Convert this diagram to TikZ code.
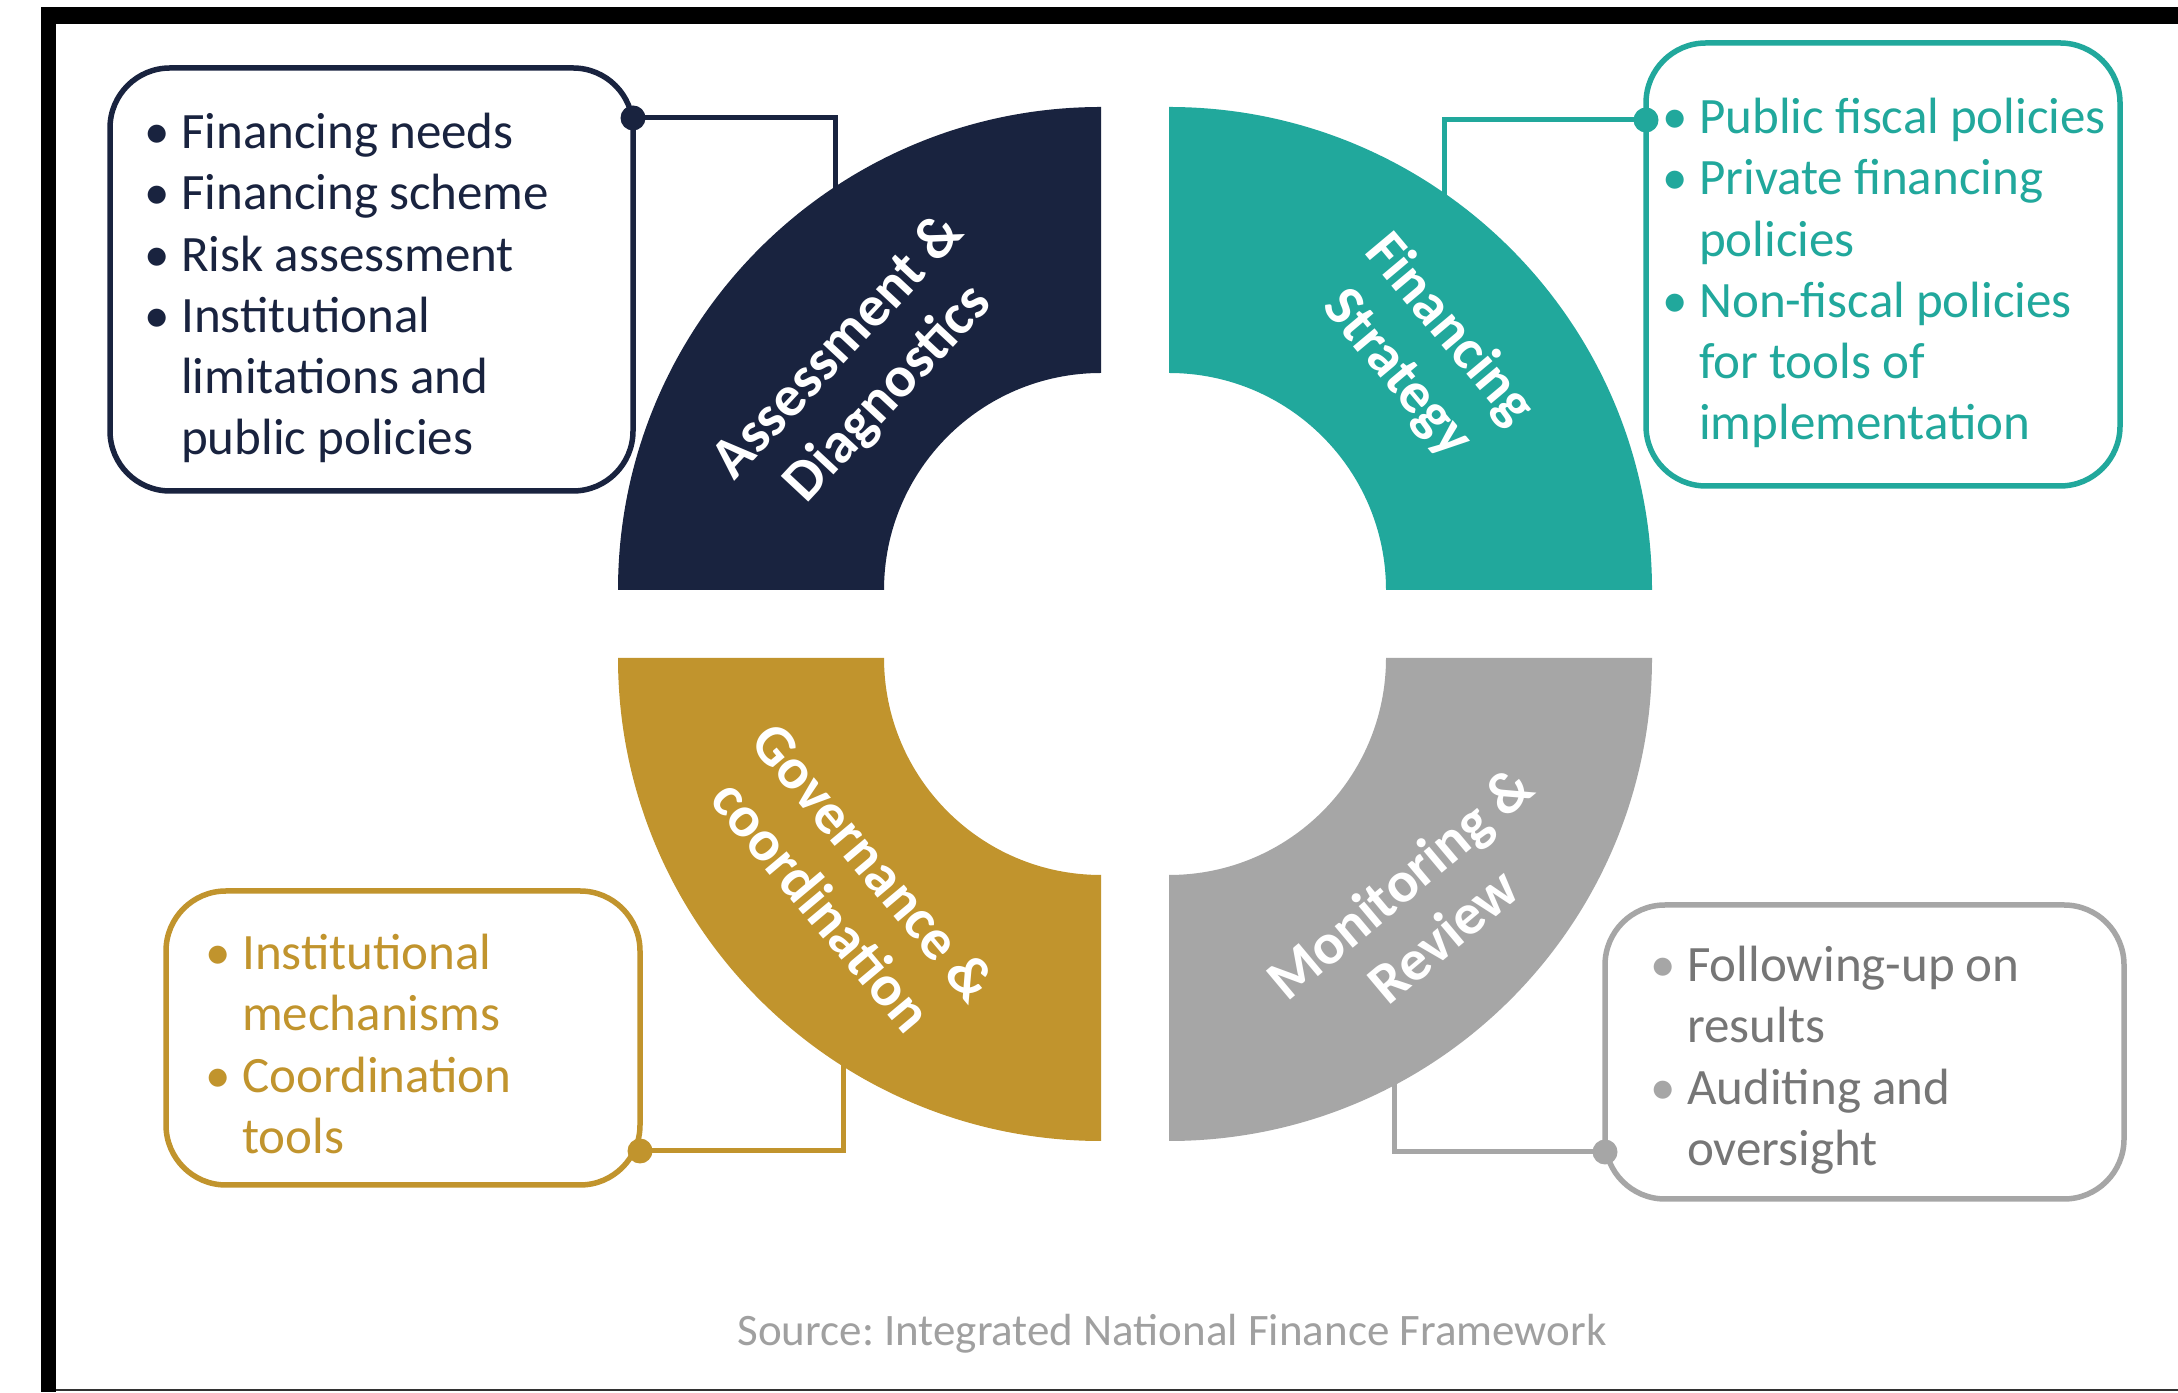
\documentclass[tikz,border=0pt]{standalone}
\usepackage{fontspec}
\setmainfont{Carlito}
\frenchspacing
\definecolor{navy}{RGB}{25,35,63}
\definecolor{teal}{RGB}{33,168,156}
\definecolor{gold}{RGB}{193,148,45}
\definecolor{qgray}{RGB}{166,166,166}
\definecolor{tgray}{RGB}{118,118,118}
\definecolor{srcgray}{RGB}{160,160,160}
\newcommand\bul[1]{\par\spaceskip=11pt plus 3pt minus 2pt\relax\hangindent=37pt\hangafter=1\noindent\makebox[37pt][l]{#1}}
\begin{document}
\begin{tikzpicture}[x=1pt,y=1pt,
  box/.style={draw=#1, line width=5.5pt, rounded corners=60pt, inner sep=0pt, fill=white},
  conn/.style={draw=#1, line width=5pt},
  txt/.style={anchor=north west, inner sep=0pt, text width=520pt, align=left,
              font=\fontsize{51}{61.3}\selectfont},
  lbl/.style={text=white, align=center, inner sep=0pt,
              font=\bfseries\fontsize{58}{68}\selectfont}]
\useasboundingbox (0,0) rectangle (2178,1392);
\fill[white] (0,0) rectangle (2178,1392);
% frame
\fill[black] (41,1385) rectangle (2178,1368);
\fill[black] (41,1385) rectangle (56,0);
\draw[line width=2pt, black!80] (56,2) -- (2178,2);

% connector end points (hidden under quadrants)
\coordinate (dA) at (633,1274);
\coordinate (kA) at (835,1142);
\coordinate (dB) at (1646,1272);
\coordinate (kB) at (1444,1142);
\coordinate (dC) at (640,241);
\coordinate (kC) at (843,392);
\coordinate (dD) at (1605,240);
\coordinate (kD) at (1394,392);

\draw[conn=navy] (dA) -| (kA);
\draw[conn=teal] (dB) -| (kB);
\draw[conn=gold] (dC) -| (kC);
\draw[conn=qgray] (dD) -| (kD);

% quadrants
\fill[navy] (1101,1285) arc[start angle=90,end angle=180,radius=483] -- (884,802) arc[start angle=180,end angle=90,radius=217] -- cycle;
\fill[teal] (1169,1285) arc[start angle=90,end angle=0,radius=483] -- (1386,802) arc[start angle=0,end angle=90,radius=217] -- cycle;
\fill[gold] (618,734) arc[start angle=180,end angle=270,radius=483] -- (1101,517) arc[start angle=270,end angle=180,radius=217] -- cycle;
\fill[qgray] (1652,734) arc[start angle=0,end angle=-90,radius=483] -- (1169,517) arc[start angle=-90,end angle=0,radius=217] -- cycle;

% labels
\node[lbl, rotate=47] (tA) at (864,1021) {Assessment \&\\Diagnostics};
\node[lbl, rotate=-50] (tB) at (1423,1040) {Financing\\Strategy};
\node[lbl, rotate=-50] (tC) at (848,508) {Governance \&\\coordination};
\node[lbl, rotate=40] (tD) at (1421,483) {Monitoring \&\\Review};

% boxes
\node[box=navy, minimum width=523pt, minimum height=423pt] (bA) at (371.5,1112.5) {};
\node[box=teal, minimum width=474pt, minimum height=443pt] (bB) at (1883,1127.5) {};
\node[box=gold, minimum width=474pt, minimum height=294pt] (bC) at (403,354) {};
\node[box=qgray, minimum width=519pt, minimum height=294pt] (bD) at (1864.5,340) {};

\fill[navy] (dA) circle (12.5);
\fill[teal] (dB) circle (12.5);
\fill[gold] (dC) circle (12.5);
\fill[qgray] (dD) circle (12.5);

% box texts
\node[txt, text=navy] (xA) at (144,1305) {%
\bul{\textbullet}\strut Financing needs
\bul{\textbullet}Financing scheme
\bul{\textbullet}Risk assessment
\bul{\textbullet}Institutional\newline limitations and\newline public policies\par};
\node[txt, text=teal] (xB) at (1662,1320) {%
\bul{\textbullet}\strut Public fiscal policies
\bul{\textbullet}Private financing\newline policies
\bul{\textbullet}Non-fiscal policies\newline for tools of\newline implementation\par};
\node[txt, text=gold] (xC) at (205,484) {%
\bul{\textbullet}\strut Institutional\newline mechanisms
\bul{\textbullet}Coordination\newline tools\par};
\node[txt, text=tgray] (xD) at (1650,472) {%
\bul{\textcolor{qgray}{\textbullet}}\strut Following-up on\newline results
\bul{\textcolor{qgray}{\textbullet}}Auditing and\newline oversight\par};

% source
\node[text=srcgray, font=\fontsize{45}{54}\selectfont, inner sep=0pt] (src) at (1172,58) {Source: Integrated National Finance Framework};
\end{tikzpicture}
\end{document}
